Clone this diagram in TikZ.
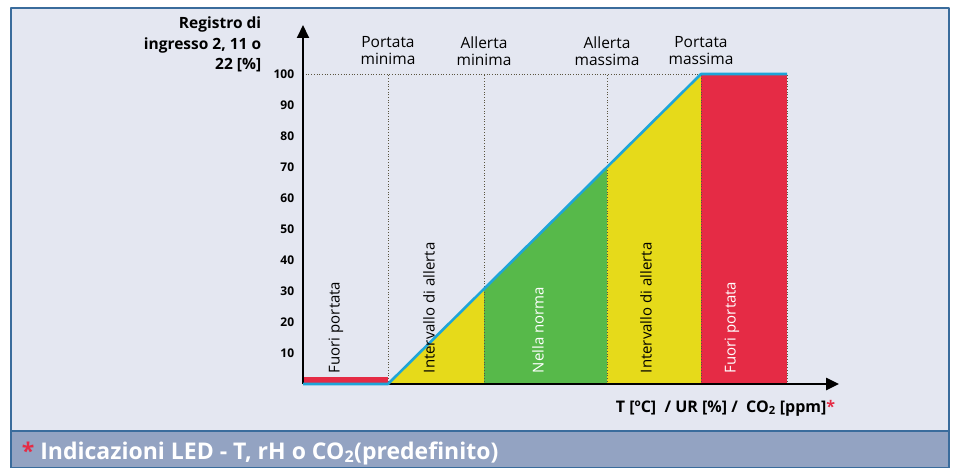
\documentclass[tikz,border=0pt]{standalone}
\usepackage{fontspec}
\setmainfont{Open Sans}
\usetikzlibrary{arrows.meta}
\definecolor{nenpanel}{HTML}{E4E7F1}
\definecolor{nenchu}{HTML}{93A3C2}
\definecolor{vien}{HTML}{3A6C9C}
\definecolor{do}{HTML}{E52B45}
\definecolor{vang}{HTML}{E6DA1A}
\definecolor{xanh}{HTML}{57B94A}
\definecolor{duong}{HTML}{1EA5D8}
\definecolor{cham}{HTML}{5A5540}
\begin{document}
\begin{tikzpicture}[x=1pt,y=-1pt,line width=1pt, line join=round, >={Triangle[length=13pt,width=12pt]},
	moc/.style={anchor=east,font=\fontsize{12}{14}\selectfont\bfseries},
	nhan/.style={align=center,anchor=north,font=\fontsize{15.5}{16.5}\selectfont},
	dung/.style={rotate=90,anchor=west,font=\fontsize{15}{16}\selectfont},
	gach/.style={cham,dotted,line width=0.7pt}]
	\useasboundingbox (0,0) rectangle (954,468);
	%% Khung
	\fill[white] (0,0) rectangle (954,468);
	\filldraw[fill=nenpanel,draw=vien,line width=1.5pt] (11,8) rectangle (949,468);
	\filldraw[fill=nenchu,draw=vien,line width=1.5pt] (11,431) rectangle (949,468);
	%% Khai bao diem
	\path
	(303,384) coordinate (O)
	(303,25) coordinate (Y)
	(839,384) coordinate (X)
	(388,384) coordinate (A)
	(484,384) coordinate (B)
	(607,384) coordinate (C)
	(701,384) coordinate (D)
	(787,384) coordinate (E)
	(303,74) coordinate (O')
	(388,74) coordinate (A')
	(484,74) coordinate (B')
	(607,74) coordinate (C')
	(701,74) coordinate (D')
	(787,74) coordinate (E')
	(intersection of A--D' and B--B') coordinate (M)
	(intersection of A--D' and C--C') coordinate (N)
	;
	%% Vung mau
	\fill[do] (303,377) rectangle (A);
	\fill[vang] (A)--(M)--(B)--cycle;
	\fill[xanh] (B)--(M)--(N)--(C)--cycle;
	\fill[vang] (C)--(N)--(D')--(D)--cycle;
	\fill[do] (D') rectangle (E);
	%% Duong cham
	\draw[gach] (O')--(D');
	\foreach \p in {A,B,C,D,E}
	\draw[gach] (\p)--(\p');
	%% Truc
	\draw[->,line width=2.5pt] (O)--(X);
	\draw[->,line width=2pt] (O)--(Y);
	\draw[duong,line width=2.6pt] (O)--(A)--(D')--(E');
	%% So tren truc
	\foreach \v in {10,20,...,100}
	\node[moc] (t\v) at (298,384-3.1*\v) {\v};
	\node[align=right,anchor=north east,font=\fontsize{15.5}{20.5}\selectfont\bfseries] (ylab) at (265,13) {Registro di\\ingresso 2, 11 o\\22 [\%]};
	\node[anchor=base east,font=\fontsize{16}{18}\selectfont\bfseries] (xlab) at (839,412) {T [ºC]\ \ / UR [\%] /\ \ CO\textsubscript{2} [ppm]\textcolor{do}{*}};
	%% Nhan
	\foreach \p/\t in {A/Portata\\minima,B/Allerta\\minima,C/Allerta\\massima,D/Portata\\massima}
	\node[nhan] (n\p) at ([yshift=41pt]\p') {\t};
	\node[dung] (f1) at (336,377) {Fuori portata};
	\node[dung] (i1) at (429,377) {Intervallo di allerta};
	\node[dung,white] (nn) at (538,377) {Nella norma};
	\node[dung] (i2) at (646,377) {Intervallo di allerta};
	\node[dung,white] (f2) at (732,377) {Fuori portata};
	%% Chu thich
	\node[anchor=base west,white,font=\fontsize{23}{26}\selectfont\bfseries] (cap) at (18,459) {\textcolor{do}{*} Indicazioni LED - T, rH o CO\textsubscript{2}(predefinito)};
\end{tikzpicture}
\end{document}
